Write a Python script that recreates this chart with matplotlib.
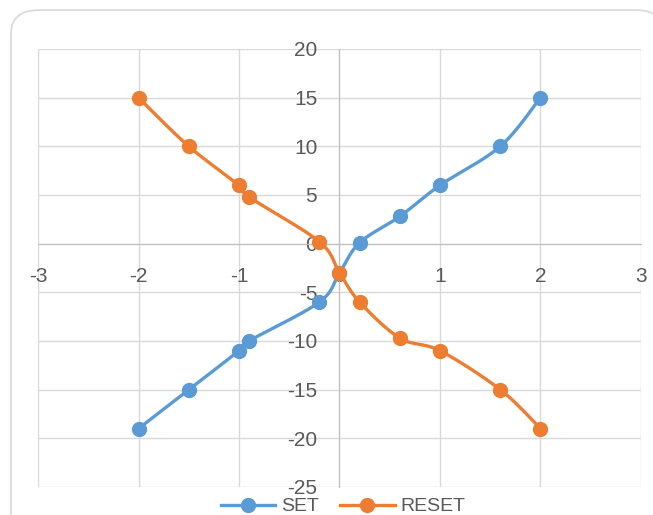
#!/usr/bin/env python3
"""SET / RESET curves, Excel-style smoothed scatter with axes crossing at zero."""
import numpy as np
import matplotlib
matplotlib.use("Agg")
import matplotlib.pyplot as plt
from matplotlib.patches import FancyBboxPatch

set_x = [-2, -1.5, -1, -0.9, -0.2, 0, 0.2, 0.6, 1, 1.6, 2]
set_y = [-19, -15, -11, -10, -6, -3, 0.1, 2.8, 6, 10, 15]
reset_x = [-2, -1.5, -1, -0.9, -0.2, 0, 0.2, 0.6, 1, 1.6, 2]
reset_y = [15, 10, 6, 4.8, 0.2, -3, -6, -9.7, -11, -15, -19]

x_ticks = [-3, -2, -1, 0, 1, 2, 3]
y_ticks = [-25, -20, -15, -10, -5, 0, 5, 10, 15, 20]


def smooth(xs, ys, n=30):
    """Bezier smoothing like Excel's 'smoothed line'."""
    p = np.column_stack([xs, ys]).astype(float)
    pts = []
    for i in range(len(p) - 1):
        p0 = p[i - 1] if i > 0 else p[i]
        p1, p2 = p[i], p[i + 1]
        p3 = p[i + 2] if i + 2 < len(p) else p[i + 1]
        c1 = p1 + (p2 - p0) / 6
        c2 = p2 - (p3 - p1) / 6
        t = np.linspace(0, 1, n)[:, None]
        seg = (1 - t) ** 3 * p1 + 3 * (1 - t) ** 2 * t * c1 + 3 * (1 - t) * t ** 2 * c2 + t ** 3 * p2
        pts.append(seg if i == 0 else seg[1:])
    pts = np.vstack(pts)
    return pts[:, 0], pts[:, 1]


plt.rcParams["font.family"] = ["Liberation Sans", "DejaVu Sans"]
fig = plt.figure(figsize=(6.53, 5.15), dpi=100)
border = FancyBboxPatch((11 / 653, -0.05), 1.0, 1.0 - 10 / 515 + 0.05,
                        boxstyle="round,pad=0,rounding_size=0.045",
                        transform=fig.transFigure, fc="white", ec="#d9d9d9", lw=1.2, zorder=-10)
fig.patches.append(border)
ax = fig.add_axes([38 / 653, 28 / 515, 603 / 653, 438 / 515])
ax.set_facecolor("none")

blue, orange = "#5B9BD5", "#ED7D31"
for xs, ys, c, lab in [(set_x, set_y, blue, "SET"), (reset_x, reset_y, orange, "RESET")]:
    sx, sy = smooth(xs, ys)
    ax.plot(sx, sy, color=c, lw=2.4, zorder=3)
    ax.plot(xs, ys, "o", color=c, ms=10, zorder=4)
    ax.plot([], [], "-o", color=c, lw=2.4, ms=10, label=lab)

ax.set_xlim(-3, 3)
ax.set_ylim(-25, 20)
ax.set_xticks(x_ticks)
ax.set_yticks(y_ticks)
ax.grid(color="#d9d9d9", lw=1)
ax.set_axisbelow(True)
for s in ["top", "right"]:
    ax.spines[s].set_visible(False)
ax.spines["left"].set_position("zero")
ax.spines["bottom"].set_position("zero")
ax.spines["left"].set_color("#bfbfbf")
ax.spines["bottom"].set_color("#bfbfbf")
ax.tick_params(length=0, labelsize=15, labelcolor="#595959")
ax.tick_params(axis="x", pad=17)
ax.tick_params(axis="y", pad=16)
ax.set_xticklabels([str(v) for v in x_ticks])
ax.set_yticklabels([str(v) for v in y_ticks])

fig.legend(loc="center", bbox_to_anchor=(343 / 653, 8.5 / 515), ncol=2, frameon=False,
           fontsize=14, handlelength=2.8, columnspacing=1.1, handletextpad=0.3,
           labelcolor="#595959", borderaxespad=0, borderpad=0)

fig.savefig("out.png", dpi=100)
